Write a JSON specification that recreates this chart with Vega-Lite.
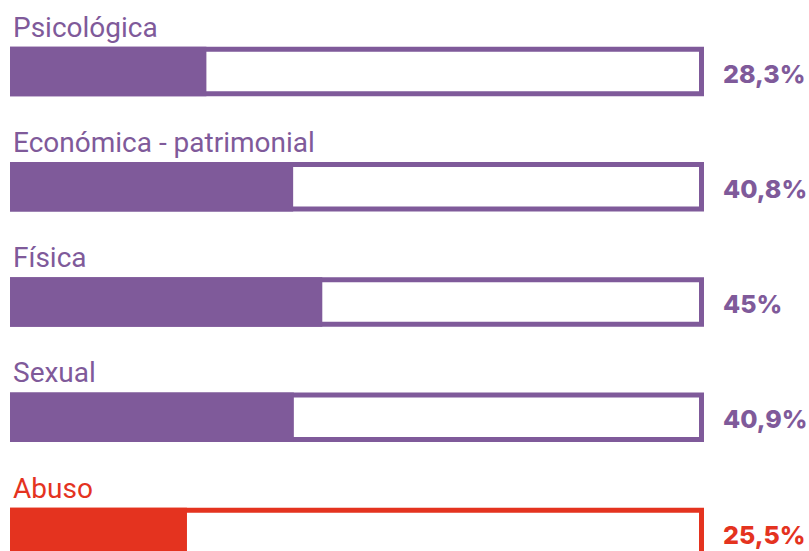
{
  "$schema": "https://vega.github.io/schema/vega-lite/v6.json",
  "autosize": {"type": "none"},
  "width": 694,
  "height": 576,
  "padding": {"left": 10, "top": 14, "right": 105, "bottom": 0},
  "background": "white",
  "config": {"view": {"stroke": null}},
  "data": {
    "values": [
      {"categoria": "Psicológica", "valor": 28.3, "etiqueta": "28,3%"},
      {"categoria": "Económica - patrimonial", "valor": 40.8, "etiqueta": "40,8%"},
      {"categoria": "Física", "valor": 45, "etiqueta": "45%"},
      {"categoria": "Sexual", "valor": 40.9, "etiqueta": "40,9%"},
      {"categoria": "Abuso", "valor": 25.5, "etiqueta": "25,5%"}
    ]
  },
  "encoding": {
    "y": {
      "field": "categoria",
      "type": "nominal",
      "sort": null,
      "axis": null,
      "scale": {"paddingInner": 0.5703, "paddingOuter": 0.28516}
    },
    "color": {
      "field": "categoria",
      "type": "nominal",
      "legend": null,
      "scale": {
        "domain": ["Psicológica", "Económica - patrimonial", "Física", "Sexual", "Abuso"],
        "range": ["#7f5a9a", "#7f5a9a", "#7f5a9a", "#7f5a9a", "#e4331f"]
      }
    }
  },
  "layer": [
    {
      "mark": {"type": "bar", "fill": "white", "strokeWidth": 5, "height": 44.5, "xOffset": 2.5, "x2Offset": -2.5},
      "encoding": {
        "x": {"datum": 0, "type": "quantitative", "scale": {"domain": [0, 100]}, "axis": null},
        "x2": {"datum": 100},
        "stroke": {
          "field": "categoria",
          "type": "nominal",
          "legend": null,
          "scale": {
            "domain": ["Psicológica", "Económica - patrimonial", "Física", "Sexual", "Abuso"],
            "range": ["#7f5a9a", "#7f5a9a", "#7f5a9a", "#7f5a9a", "#e4331f"]
          }
        }
      }
    },
    {
      "mark": {"type": "bar", "strokeWidth": 0},
      "encoding": {
        "x": {"field": "valor", "type": "quantitative", "scale": {"domain": [0, 100]}, "axis": null}
      }
    },
    {
      "mark": {"type": "text", "align": "left", "baseline": "alphabetic", "font": "Roboto", "fontWeight": 400, "fontSize": 28, "yOffset": -34.75, "dx": 3},
      "encoding": {
        "x": {"datum": 0, "type": "quantitative"},
        "text": {"field": "categoria"}
      }
    },
    {
      "mark": {"type": "text", "align": "left", "baseline": "alphabetic", "font": "Inter", "fontWeight": 800, "fontSize": 25, "yOffset": 11.25, "dx": 19},
      "encoding": {
        "x": {"datum": 100, "type": "quantitative"},
        "text": {"field": "etiqueta"}
      }
    }
  ]
}
